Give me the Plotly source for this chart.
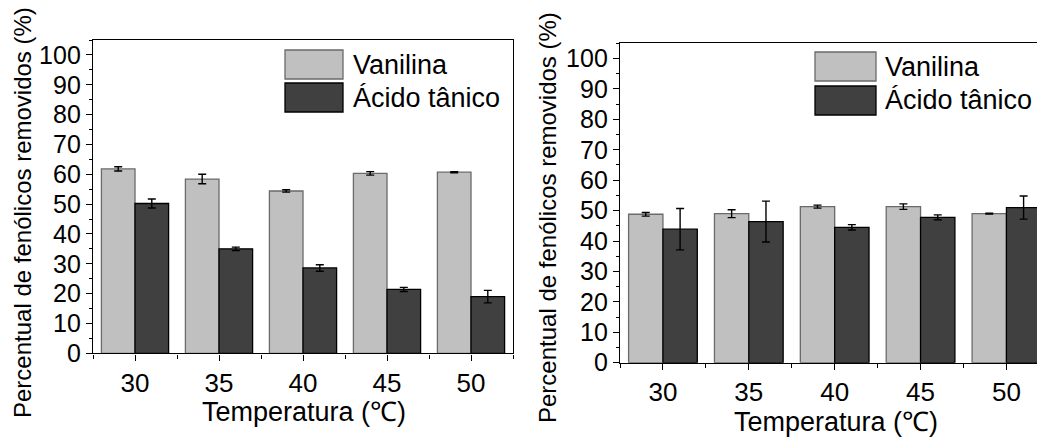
import plotly.graph_objects as go

# Temperaturas ensaiadas (°C) e posições das categorias no eixo x
temperaturas = ["30", "35", "40", "45", "50"]
posicoes = [0, 1, 2, 3, 4]

# Painel esquerdo
vanilina_a = [61.8, 58.4, 54.4, 60.3, 60.7]
vanilina_a_err = [0.7, 1.6, 0.4, 0.6, 0.2]
tanico_a = [50.2, 35.0, 28.6, 21.4, 19.0]
tanico_a_err = [1.5, 0.6, 1.1, 0.7, 2.1]

# Painel direito
vanilina_b = [48.8, 49.0, 51.3, 51.3, 49.0]
vanilina_b_err = [0.6, 1.3, 0.5, 0.9, 0.15]
tanico_b = [43.9, 46.4, 44.5, 47.8, 51.0]
tanico_b_err = [6.8, 6.7, 0.9, 0.8, 3.8]

W, H = 1037, 437
FONT = "Liberation Sans, Arial, Helvetica, sans-serif"
COR_VAN = "#c0c0c0"
COR_VAN_LINHA = "#6a6a6a"
COR_TAN = "#404040"
COR_TAN_LINHA = "#000000"


def px(x):
    return x / W


def py(y):
    return 1 - y / H


def barras(x, y, err, nome, cor, linha, xa, ya):
    return go.Bar(
        x=x, y=y, name=nome, xaxis=xa, yaxis=ya,
        marker=dict(color=cor, line=dict(color=linha, width=1.3)),
        error_y=dict(type="data", array=err, visible=True,
                     color="black", thickness=1.4, width=4),
        showlegend=False,
    )


fig = go.Figure()
fig.add_trace(barras(posicoes, vanilina_a, vanilina_a_err, "Vanilina", COR_VAN, COR_VAN_LINHA, "x", "y"))
fig.add_trace(barras(posicoes, tanico_a, tanico_a_err, "Ácido tânico", COR_TAN, COR_TAN_LINHA, "x", "y"))
fig.add_trace(barras(posicoes, vanilina_b, vanilina_b_err, "Vanilina", COR_VAN, COR_VAN_LINHA, "x2", "y2"))
fig.add_trace(barras(posicoes, tanico_b, tanico_b_err, "Ácido tânico", COR_TAN, COR_TAN_LINHA, "x2", "y2"))


def eixo_x(dominio, faixa, ancora, espelho):
    return dict(
        domain=dominio, range=faixa, anchor=ancora,
        tickmode="array", tickvals=posicoes, ticktext=temperaturas,
        ticks="outside", ticklen=6, tickwidth=1.3, tickcolor="black",
        minor=dict(tickmode="array", tickvals=[-0.5, 0.5, 1.5, 2.5, 3.5, 4.5],
                   ticks="outside", ticklen=4, tickwidth=1.2, tickcolor="black"),
        showline=True, linecolor="black", linewidth=1.4, mirror=espelho,
        showgrid=False, zeroline=False,
        tickfont=dict(family=FONT, size=26, color="black"),
    )


def eixo_y(dominio, ancora, espelho):
    return dict(
        domain=dominio, range=[0, 105], anchor=ancora,
        tick0=0, dtick=10,
        ticks="outside", ticklen=6, tickwidth=1.3, tickcolor="black",
        minor=dict(tick0=0, dtick=5, ticks="outside", ticklen=3,
                   tickwidth=1.2, tickcolor="black"),
        showline=True, linecolor="black", linewidth=1.4, mirror=espelho,
        showgrid=False, zeroline=False,
        tickfont=dict(family=FONT, size=25, color="black"),
    )


fig.update_layout(
    width=W, height=H,
    margin=dict(l=0, r=0, t=0, b=0, autoexpand=False),
    paper_bgcolor="white", plot_bgcolor="white",
    barmode="group", bargap=0.2, bargroupgap=0,
    font=dict(family=FONT, color="black"),
    xaxis=eixo_x([px(93), px(513)], [-0.5, 4.5], "y", True),
    yaxis=eixo_y([py(353.3), py(40)], "x", True),
    xaxis2=eixo_x([px(620), 1.0], [-0.5, 4.356], "y2", True),
    yaxis2=eixo_y([py(362.7), py(43.3)], "x2", False),
)

# Títulos dos eixos
titulo_y = "Percentual de fenólicos removidos (%)"
titulo_x = "Temperatura (℃)"
anot = [
    dict(x=px(22), y=py(213), text=titulo_y, textangle=-90, size=24),
    dict(x=px(548), y=py(218), text=titulo_y, textangle=-90, size=24),
    dict(x=px(304), y=py(412), text=titulo_x, textangle=0, size=27),
    dict(x=px(836), y=py(422), text=titulo_x, textangle=0, size=27),
]
for a in anot:
    fig.add_annotation(
        x=a["x"], y=a["y"], xref="paper", yref="paper", text=a["text"],
        textangle=a["textangle"], showarrow=False, xanchor="center", yanchor="middle",
        font=dict(family=FONT, size=a["size"], color="black"),
    )

# Legendas com amostras grandes de cor
legendas = [
    # (x0, x1, y0 vanilina, y1 vanilina, y0 tânico, y1 tânico, x texto)
    (285, 343, 50, 79, 83, 112, 351),
    (815, 876, 52, 81, 86, 115, 883),
]
for x0, x1, v0, v1, t0, t1, xt in legendas:
    for (y0, y1, cor, linha, nome) in [(v0, v1, COR_VAN, COR_VAN_LINHA, "Vanilina"),
                                       (t0, t1, COR_TAN, COR_TAN_LINHA, "Ácido tânico")]:
        fig.add_shape(type="rect", xref="paper", yref="paper",
                      x0=px(x0), x1=px(x1), y0=py(y1), y1=py(y0),
                      fillcolor=cor, line=dict(color=linha, width=1.3))
        fig.add_annotation(x=px(xt), y=py((y0 + y1) / 2), xref="paper", yref="paper",
                           text=nome, showarrow=False, xanchor="left", yanchor="middle",
                           font=dict(family=FONT, size=27, color="black"))

fig.write_html("out.html")
